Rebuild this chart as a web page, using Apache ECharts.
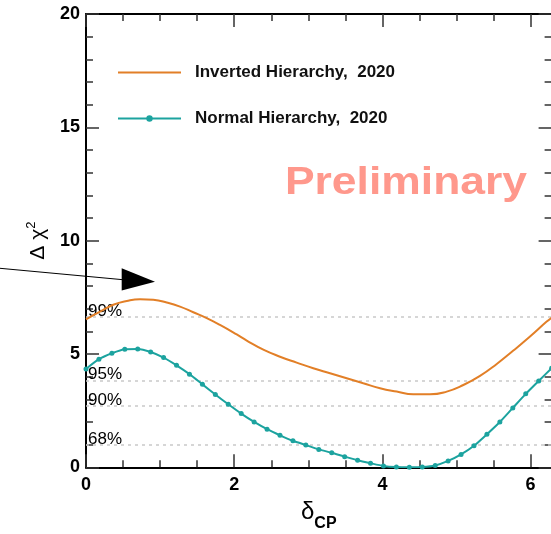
<!DOCTYPE html>
<html><head><meta charset="utf-8">
<script src="https://cdn.jsdelivr.net/npm/echarts@6/dist/echarts.min.js"></script>
<style>html,body{margin:0;padding:0;background:#fff}#c{width:551px;height:534px}</style>
</head><body><div id="c"></div>
<script>
// Normal hierarchy (teal, with markers)
const deltaNH = [0, 0.1745, 0.3491, 0.5236, 0.6981, 0.8727, 1.0472, 1.2217, 1.3963, 1.5708, 1.7453, 1.9199, 2.0944, 2.2689, 2.4435, 2.6180, 2.7925, 2.9671, 3.1416, 3.3161, 3.4907, 3.6652, 3.8397, 4.0143, 4.1888, 4.3633, 4.5379, 4.7124, 4.8869, 5.0615, 5.2360, 5.4105, 5.5851, 5.7596, 5.9341, 6.1087, 6.2832];
const chi2NH = [4.34, 4.77, 5.03, 5.21, 5.22, 5.09, 4.84, 4.50, 4.11, 3.66, 3.21, 2.78, 2.37, 2.00, 1.68, 1.41, 1.17, 0.98, 0.79, 0.64, 0.47, 0.31, 0.18, 0.06, 0.01, 0.00, 0.01, 0.08, 0.28, 0.57, 0.95, 1.46, 2.00, 2.62, 3.24, 3.81, 4.37];
// Inverted hierarchy (orange)
const deltaIH = [0, 0.189, 0.368, 0.549, 0.729, 0.908, 1.089, 1.269, 1.448, 1.629, 1.808, 2.034, 2.169, 2.393, 2.618, 2.843, 3.067, 3.293, 3.518, 3.742, 3.968, 4.193, 4.417, 4.642, 4.868, 5.092, 5.317, 5.543, 5.767, 5.992, 6.217, 6.2832];
const chi2IH = [6.53, 6.87, 7.17, 7.34, 7.42, 7.39, 7.27, 7.09, 6.84, 6.58, 6.28, 5.86, 5.59, 5.19, 4.88, 4.62, 4.37, 4.15, 3.93, 3.71, 3.49, 3.34, 3.22, 3.22, 3.34, 3.63, 4.03, 4.56, 5.15, 5.77, 6.43, 6.60];
// confidence levels
const clValues = [6.63, 3.84, 2.71, 1.0];
const clLabels = ['99%', '95%', '90%', '68%'];
const seriesNames = ['Inverted Hierarchy,  2020', 'Normal Hierarchy,  2020'];

const FONT = 'Liberation Sans, Arial, Helvetica, sans-serif';
const ORANGE = '#e27f27';
const TEAL = '#1ca39f';
const X_MAX = 6.2832;

const chart = echarts.init(document.getElementById('c'), null, {renderer: 'canvas'});

function xAxisDef(pos, interval, len, showLine, showLabel) {
  return {
    type: 'value', position: pos, min: 0, max: X_MAX, interval: interval,
    axisLine: {show: showLine, onZero: false, lineStyle: {color: '#000', width: 2}},
    axisTick: {show: true, inside: true, length: len, lineStyle: {color: '#333', width: 1.5}},
    axisLabel: {show: showLabel, showMaxLabel: false, margin: 9, fontSize: 18, fontWeight: 'bold', color: '#000', fontFamily: FONT},
    splitLine: {show: false}
  };
}
function yAxisDef(pos, showLabel) {
  return {
    type: 'value', position: pos, min: 0, max: 20, interval: 5,
    axisLine: {show: true, onZero: false, lineStyle: {color: '#000', width: 2}},
    axisTick: {show: true, inside: true, length: 13, lineStyle: {color: '#333', width: 1.5}},
    minorTick: {show: true, splitNumber: 5, length: 7, lineStyle: {color: '#333', width: 1.5}},
    axisLabel: {show: showLabel, margin: 6, fontSize: 18, fontWeight: 'bold', color: '#000', fontFamily: FONT},
    splitLine: {show: false}
  };
}

const xMain = xAxisDef('bottom', 2, 13, true, true);
xMain.name = '{d|δ}{s|CP}';
xMain.nameLocation = 'middle';
xMain.nameGap = 38;
xMain.nameTextStyle = {
  rich: {
    d: {fontSize: 24, fontFamily: FONT, color: '#000', verticalAlign: 'bottom', lineHeight: 26, padding: [0, 0, 7, 0]},
    s: {fontSize: 16, fontWeight: 'bold', fontFamily: FONT, color: '#000', verticalAlign: 'bottom', lineHeight: 18}
  }
};
const yMain = yAxisDef('left', true);
yMain.name = '{a|Δ χ}{s|2}';
yMain.nameLocation = 'middle';
yMain.nameGap = 36;
yMain.nameTextStyle = {
  rich: {
    a: {fontSize: 21, fontFamily: FONT, color: '#000', verticalAlign: 'bottom', lineHeight: 23},
    s: {fontSize: 13, fontFamily: FONT, color: '#000', verticalAlign: 'bottom', lineHeight: 14, padding: [0, 0, 11, 0]}
  }
};

const option = {
  animation: false,
  backgroundColor: '#fff',
  grid: {left: 86, top: 14, width: 465.6, height: 453.3, containLabel: false, outerBoundsMode: 'none'},
  legend: {
    data: [
      {name: seriesNames[0], itemStyle: {color: 'rgba(0,0,0,0)', borderWidth: 0}},
      {name: seriesNames[1]}
    ],
    orient: 'vertical', left: 117, top: 64, padding: 0,
    itemWidth: 63, itemHeight: 8, itemGap: 29,
    textStyle: {fontSize: 17, fontWeight: 'bold', color: '#111', fontFamily: FONT, padding: [0, 0, 0, 9]}
  },
  xAxis: [
    xMain,
    xAxisDef('bottom', 0.5, 7, false, false),
    xAxisDef('top', 2, 13, true, false),
    xAxisDef('top', 0.5, 7, false, false)
  ],
  yAxis: [yMain, yAxisDef('right', false)],
  series: [
    {
      name: seriesNames[0], type: 'line', xAxisIndex: 0, yAxisIndex: 0,
      data: deltaIH.map((x, i) => [x, chi2IH[i]]),
      symbol: 'none', smooth: 0.5, color: ORANGE,
      lineStyle: {color: ORANGE, width: 2}, z: 3,
      markLine: {
        silent: true, symbol: 'none', z: 1,
        lineStyle: {color: '#c9c9c9', type: [3, 4], width: 1.5},
        label: {position: 'insideStartTop', distance: [2, -3], formatter: p => p.name, fontSize: 17, color: '#000', fontFamily: FONT},
        data: clValues.map((v, i) => ({yAxis: v, name: clLabels[i]}))
      }
    },
    {
      name: seriesNames[1], type: 'line', xAxisIndex: 0, yAxisIndex: 0,
      data: deltaNH.map((x, i) => [x, chi2NH[i]]),
      symbol: 'circle', symbolSize: 5, showAllSymbol: true, smooth: 0.2, color: TEAL,
      itemStyle: {color: TEAL}, lineStyle: {color: TEAL, width: 2}, z: 4
    }
  ],
  graphic: [
    {type: 'text', x: 406, y: 183, scaleX: 1.14, originX: 0, originY: 0, z: 10,
     style: {text: 'Preliminary', font: 'bold 39px ' + FONT, fill: '#ff988c', textAlign: 'center', textVerticalAlign: 'middle'}},
    {type: 'polyline', z: 10, shape: {points: [[0, 268.3], [124, 279.8]]}, style: {stroke: '#000', lineWidth: 1, fill: null}},
    {type: 'polygon', z: 10, shape: {points: [[121.7, 268.3], [121.7, 290.5], [155, 281.7]]}, style: {fill: '#000', stroke: null}}
  ]
};
chart.setOption(option);
</script>
</body></html>
